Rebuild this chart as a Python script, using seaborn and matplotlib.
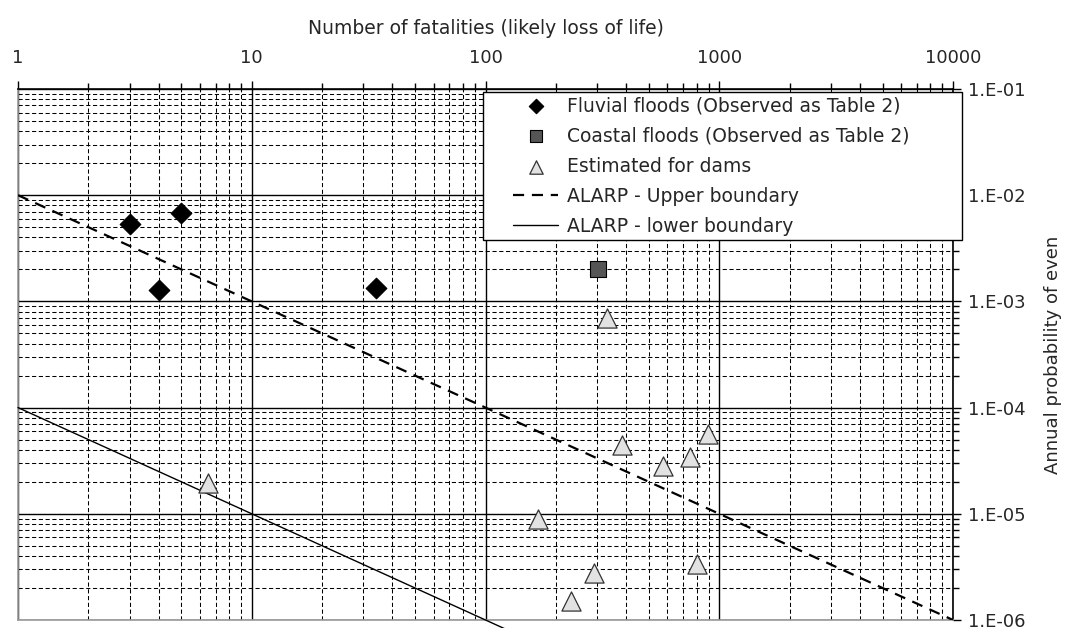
import numpy as np
import pandas as pd
import matplotlib
matplotlib.use("Agg")
import matplotlib.pyplot as plt
import seaborn as sns
from matplotlib.ticker import NullFormatter, LogLocator
from matplotlib.patches import Rectangle

# ---- data ----
fluvial_x = [3, 5, 4, 34]
fluvial_y = [5.4e-3, 6.8e-3, 1.27e-3, 1.35e-3]

coastal_x = [304]
coastal_y = [2.0e-3]

dams_x = [6.5, 168, 233, 290, 332, 385, 576, 752, 805, 898]
dams_y = [1.96e-5, 9.0e-6, 1.5e-6, 2.8e-6, 7.0e-4, 4.4e-5, 2.8e-5, 3.4e-5, 3.4e-6, 5.7e-5]

upper_x = [1, 10000]
upper_y = [1e-2, 1e-6]
lower_x = [1, 10000]
lower_y = [1e-4, 1e-8]

x_ticks = [1, 10, 100, 1000, 10000]
x_labels = ["1", "10", "100", "1000", "10000"]
y_ticks = [1e-6, 1e-5, 1e-4, 1e-3, 1e-2, 1e-1]
y_labels = ["1.E-06", "1.E-05", "1.E-04", "1.E-03", "1.E-02", "1.E-01"]

labels = ["Fluvial floods (Observed as Table 2)",
          "Coastal floods (Observed as Table 2)",
          "Estimated for dams",
          "ALARP - Upper boundary",
          "ALARP - lower boundary"]

sns.set_theme(style="white")
plt.rcParams['font.family'] = ['DejaVu Sans']

W, H = 1065, 628
fig = plt.figure(figsize=(W / 100, H / 100), dpi=100)
ax = fig.add_axes([18/W, 1 - 620/H, (953-18)/W, (620-89)/H])
ax.set_xscale("log")
ax.set_yscale("log")
ax.set_xlim(1, 10000)
ax.set_ylim(1e-6, 1e-1)

# grid
ax.xaxis.set_minor_locator(LogLocator(base=10, subs=np.arange(2, 10)))
ax.yaxis.set_minor_locator(LogLocator(base=10, subs=np.arange(2, 10)))
ax.grid(True, which="major", color="black", linewidth=1.0, linestyle="-")
ax.grid(True, which="minor", color="black", linewidth=0.75, linestyle=(0, (4, 2.5)))
ax.set_axisbelow(True)

sns.lineplot(x=upper_x, y=upper_y, ax=ax, color="black", linewidth=1.6,
             linestyle=(0, (5, 3.5)), label=labels[3], zorder=3)
sns.lineplot(x=lower_x, y=lower_y, ax=ax, color="black", linewidth=1.0,
             label=labels[4], zorder=3)
ax.lines[-1].set_clip_on(False)

sns.scatterplot(x=fluvial_x, y=fluvial_y, ax=ax, marker="D", s=110, color="black",
                edgecolor="black", label=labels[0], zorder=4)
sns.scatterplot(x=coastal_x, y=coastal_y, ax=ax, marker="s", s=130, color="#555555",
                edgecolor="black", linewidth=0.8, label=labels[1], zorder=4)
sns.scatterplot(x=dams_x, y=dams_y, ax=ax, marker="^", s=190, color="#e2e2e2",
                edgecolor="#333333", linewidth=0.9, label=labels[2], zorder=4)

# axes on top and right
ax.xaxis.tick_top()
ax.xaxis.set_label_position("top")
ax.yaxis.tick_right()
ax.yaxis.set_label_position("right")
ax.set_xticks(x_ticks)
ax.set_xticklabels(x_labels)
ax.set_yticks(y_ticks)
ax.set_yticklabels(y_labels)
ax.xaxis.set_minor_formatter(NullFormatter())
ax.yaxis.set_minor_formatter(NullFormatter())
ax.tick_params(axis="both", which="major", direction="out", length=6, width=1,
               color="black", labelsize=13, pad=10, top=True, bottom=False,
               right=True, left=False)
ax.tick_params(axis="both", which="minor", direction="out", length=4, width=1,
               color="black", top=True, bottom=False, right=True, left=False)
ax.tick_params(axis="y", which="major", pad=5)
ax.set_xlabel("Number of fatalities (likely loss of life)", fontsize=13.5, labelpad=11)
ax.set_ylabel("Annual probability of even", fontsize=13, labelpad=13)

for side in ["top", "right"]:
    ax.spines[side].set_color("black")
    ax.spines[side].set_linewidth(1.2)
for side in ["left", "bottom"]:
    ax.spines[side].set_color("#999999")
    ax.spines[side].set_linewidth(1.2)

# legend: frame drawn as a rectangle, legend itself frameless
frame = Rectangle((483/W, 1 - 240/H), (962-483)/W, (240-92)/H, transform=fig.transFigure,
                  facecolor="white", edgecolor="black", linewidth=1.0,
                  clip_on=False, zorder=9)
ax.add_patch(frame)

handles, labs = ax.get_legend_handles_labels()
order = [labs.index(l) for l in labels]
leg = ax.legend([handles[i] for i in order], [labs[i] for i in order],
                loc="upper left", bbox_to_anchor=(513/W, 1 - 96/H),
                bbox_transform=fig.transFigure, fontsize=13.5,
                frameon=False, borderpad=0, labelspacing=0.6, handlelength=2.4,
                handletextpad=0.5, borderaxespad=0, markerscale=0.7)
leg.set_zorder(10)

fig.savefig("out.png", dpi=100)
